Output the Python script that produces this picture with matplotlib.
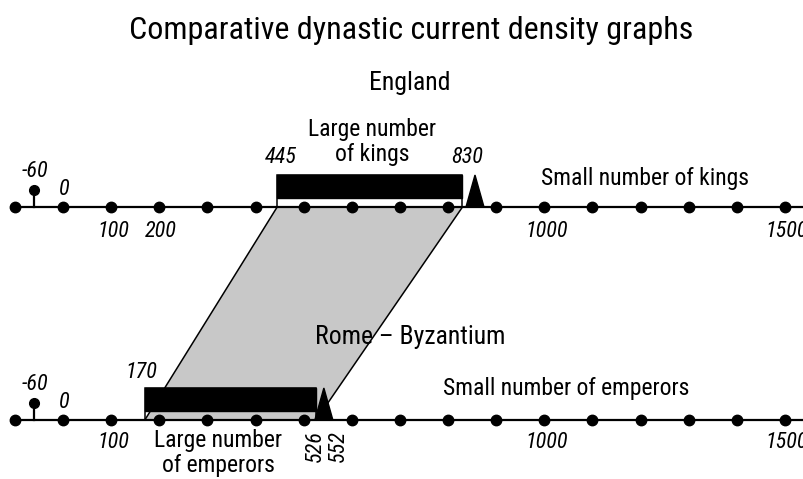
import matplotlib
matplotlib.use('Agg')
import matplotlib.pyplot as plt
from matplotlib.patches import Polygon, Rectangle

plt.rcParams['font.family'] = ['Roboto Condensed', 'DejaVu Sans']

# century dots on both time lines (schematic, one dot per 100 years)
century_years = list(range(-100, 1600, 100))
start_year = -60
eng_dense = (445, 830)
rome_dense = (170, 526)
eng_peak = 856
rome_peak = 542
rome_peak_label = 552
eng_below_labels = [100, 200, 1000, 1500]
rome_below_labels = [100, 1000, 1500]

# vertical layout in pixel units (y grows downward)
y_top = 207
y_bot = 420
px_per_year = 0.4813
num_size = 16
lab_size = 17


def xpix(px):
    # pixel column -> year on the schematic axis
    return (px - 63) / px_per_year


fig = plt.figure(figsize=(8.04, 4.79), dpi=100)
ax = fig.add_axes([0, 0, 1, 1])
ax.set_xlim(xpix(0), xpix(804))
ax.set_ylim(479, 0)
ax.axis('off')

# band connecting the two dense periods
ax.add_patch(Polygon([(eng_dense[0], y_top), (eng_dense[1], y_top),
                      (rome_dense[1], y_bot), (rome_dense[0], y_bot)],
                     closed=True, facecolor='#c8c8c8', edgecolor='none', zorder=1))
ax.plot([eng_dense[0], rome_dense[0]], [y_top, y_bot], color='k', lw=1.1, zorder=2)
ax.plot([eng_dense[1], rome_dense[1]], [y_top, y_bot], color='k', lw=1.1, zorder=2)


def timeline(y, dense, peak, below, below_off):
    ax.plot([century_years[0], xpix(804)], [y, y], color='k', lw=1.6, zorder=3)
    ax.plot(century_years, [y] * len(century_years), 'o', color='k', ms=7.5, zorder=4)
    ax.plot([start_year, start_year], [y, y - 17], color='k', lw=1.6, zorder=3)
    ax.plot([start_year], [y - 17], 'o', color='k', ms=7, zorder=4)
    # dense period bar
    ax.add_patch(Rectangle((dense[0], y - 32), dense[1] - dense[0], 23,
                           facecolor='k', edgecolor='k', zorder=5))
    ax.add_patch(Rectangle((dense[0], y - 32), dense[1] - dense[0], 32,
                           fill=False, edgecolor='k', lw=1.1, zorder=5))
    half = 9 / px_per_year
    ax.add_patch(Polygon([(peak - half, y), (peak + half, y), (peak, y - 32)],
                         closed=True, facecolor='k', edgecolor='k', zorder=5))
    ax.text(start_year + 2, y - 30, str(start_year), style='italic', fontsize=num_size,
            ha='center', va='baseline')
    ax.text(3, y - 12, '0', style='italic', fontsize=num_size, ha='center', va='baseline')
    for yr in below:
        ax.text(yr + 4, y + below_off, str(yr), style='italic', fontsize=num_size,
                ha='center', va='baseline')


timeline(y_top, eng_dense, eng_peak, eng_below_labels, 30)
timeline(y_bot, rome_dense, rome_peak, rome_below_labels, 28)

ax.text(xpix(411), 30, 'Comparative dynastic current density graphs',
        fontsize=23, ha='center', va='center')
ax.text(xpix(410), 83, 'England', fontsize=18.5, ha='center', va='center')
ax.text(xpix(410), 337, 'Rome – Byzantium', fontsize=18.5, ha='center', va='center')

ax.text(eng_dense[0] + 8, 163, str(eng_dense[0]), style='italic', fontsize=num_size,
        ha='center', va='baseline')
ax.text(eng_dense[1] + 10, 163, str(eng_dense[1]), style='italic', fontsize=num_size,
        ha='center', va='baseline')
ax.text(xpix(372), 142, 'Large number\nof kings', fontsize=lab_size, ha='center',
        va='center', linespacing=1.15)
ax.text(xpix(645), 179, 'Small number of kings', fontsize=lab_size, ha='center',
        va='center')

ax.text(rome_dense[0] - 8, 378, str(rome_dense[0]), style='italic', fontsize=num_size,
        ha='center', va='baseline')
ax.text(xpix(218), 453, 'Large number\nof emperors', fontsize=lab_size, ha='center',
        va='center', linespacing=1.1)
ax.text(xpix(566), 388, 'Small number of emperors', fontsize=lab_size, ha='center',
        va='center')
ax.text(xpix(315), 446, str(rome_dense[1]), style='italic', fontsize=num_size,
        rotation=90, ha='center', va='center')
ax.text(xpix(338), 446, str(rome_peak_label), style='italic', fontsize=num_size,
        rotation=90, ha='center', va='center')

fig.savefig('out.png', dpi=100)
